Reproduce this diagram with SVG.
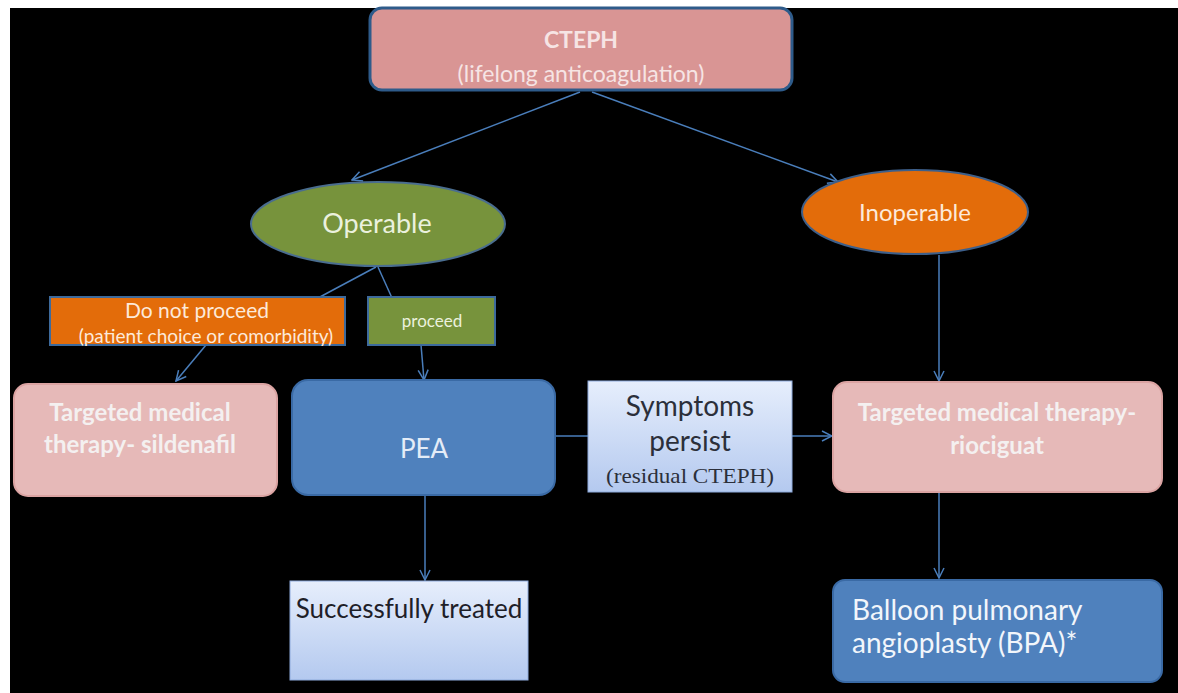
<svg xmlns="http://www.w3.org/2000/svg" width="1178" height="693" viewBox="0 0 1178 693">
<defs>
<style>
text{font-family:Lato,"Open Sans","Liberation Sans",sans-serif;text-anchor:middle}
.pink{fill:#e6b9b8;stroke:#dba3a2;stroke-width:2}
.blue{fill:#4f81bd;stroke:#3a6aa5;stroke-width:2}
.grad{fill:url(#lb);stroke:#8eaadb;stroke-width:1}
.c{fill:none;stroke:#4a7ebb;stroke-width:1.5}
.tw{fill:#f4f0f0;font-weight:bold;font-size:24px}
.serif{font-family:"Liberation Serif","Times New Roman",serif}
</style>
<linearGradient id="lb" x1="0" y1="0" x2="0" y2="1">
<stop offset="0" stop-color="#e6eefc"/>
<stop offset="1" stop-color="#b4c9ef"/>
</linearGradient>
<marker id="a" viewBox="0 0 12 12" refX="11" refY="6" markerWidth="12" markerHeight="12" markerUnits="userSpaceOnUse" orient="auto">
<path d="M1,1 L11,6 L1,11" fill="none" stroke="#4a7ebb" stroke-width="1.5"/>
</marker>
</defs>
<rect x="0" y="0" width="1178" height="693" fill="#ffffff"/>
<rect x="10" y="8" width="1168" height="685" fill="#000000"/>

<g id="connectors">
<line class="c" x1="580" y1="92" x2="352" y2="180" marker-end="url(#a)"/>
<line class="c" x1="592" y1="92" x2="838" y2="182" marker-end="url(#a)"/>
<line class="c" x1="376" y1="267" x2="318" y2="298"/>
<line class="c" x1="206" y1="345" x2="176" y2="381" marker-end="url(#a)"/>
<line class="c" x1="378" y1="267" x2="392" y2="298"/>
<line class="c" x1="421" y1="345" x2="424" y2="380" marker-end="url(#a)"/>
<line class="c" x1="425" y1="495" x2="425" y2="580" marker-end="url(#a)"/>
<line class="c" x1="555" y1="436" x2="588" y2="436"/>
<line class="c" x1="792" y1="436" x2="832" y2="436" marker-end="url(#a)"/>
<line class="c" x1="939" y1="255" x2="939" y2="381" marker-end="url(#a)"/>
<line class="c" x1="939" y1="492" x2="939" y2="578" marker-end="url(#a)"/>
</g>

<g id="cteph">
<rect x="370" y="8" width="422" height="82" rx="12" fill="#d99594" stroke="#2e5b8a" stroke-width="3"/>
<text x="581" y="48" fill="#f6e4e4" font-weight="bold" font-size="23">CTEPH</text>
<text x="581" y="82" fill="#f6e4e4" font-size="23">(lifelong anticoagulation)</text>
</g>

<g id="operable">
<ellipse cx="378" cy="224" rx="127" ry="42" fill="#77933c" stroke="#4a6d8f" stroke-width="2"/>
<text x="377" y="233" fill="#ebf1de" font-size="27">Operable</text>
</g>

<g id="inoperable">
<ellipse cx="915" cy="212" rx="113" ry="42" fill="#e36c0a" stroke="#3d5f8a" stroke-width="2"/>
<text x="915" y="221" fill="#fde9d9" font-size="24">Inoperable</text>
</g>

<g id="do-not-proceed">
<rect x="50" y="297" width="295" height="48" fill="#e36c0a" stroke="#3d6a9c" stroke-width="2"/>
<text x="197" y="318" fill="#fde9d9" font-size="21">Do not proceed</text>
<text x="206" y="343" fill="#fde9d9" font-size="19">(patient choice or comorbidity)</text>
</g>

<g id="proceed">
<rect x="368" y="297" width="127" height="48" fill="#77933c" stroke="#3d6a9c" stroke-width="2"/>
<text x="432" y="327" fill="#ebf1de" font-size="17">proceed</text>
</g>

<g id="sildenafil">
<rect class="pink" x="14" y="384" width="263" height="112" rx="14"/>
<text class="tw" x="140" y="421">Targeted medical</text>
<text class="tw" x="140" y="453">therapy- sildenafil</text>
</g>

<g id="pea">
<rect class="blue" x="292" y="380" width="263" height="115" rx="16"/>
<text x="424" y="458" fill="#e4ecf7" font-size="26">PEA</text>
</g>

<g id="symptoms">
<rect class="grad" x="588" y="381" width="204" height="111"/>
<text x="690" y="416" fill="#2b2f3a" font-size="28">Symptoms</text>
<text x="690" y="451" fill="#2b2f3a" font-size="28">persist</text>
<text class="serif" x="690" y="483" fill="#2b2f3a" font-size="21" textLength="168" lengthAdjust="spacingAndGlyphs">(residual CTEPH)</text>
</g>

<g id="riociguat">
<rect class="pink" x="833" y="382" width="329" height="110" rx="14"/>
<text class="tw" x="997" y="421">Targeted medical therapy-</text>
<text class="tw" x="997" y="454">riociguat</text>
</g>

<g id="successfully-treated">
<rect class="grad" x="290" y="581" width="238" height="99"/>
<text x="409" y="618" fill="#1e2028" font-size="26">Successfully treated</text>
</g>

<g id="bpa">
<rect class="blue" x="833" y="580" width="329" height="102" rx="12"/>
<text x="852" y="620" fill="#f2f6fb" font-size="28" style="text-anchor:start">Balloon pulmonary</text>
<text x="852" y="653" fill="#f2f6fb" font-size="28" style="text-anchor:start">angioplasty (BPA)*</text>
</g>
</svg>
